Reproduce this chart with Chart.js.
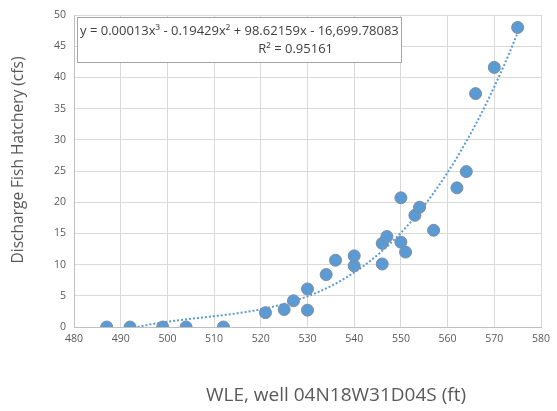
<!DOCTYPE html>
<html>
<head>
<meta charset="utf-8">
<script src="https://cdn.jsdelivr.net/npm/chart.js@4"></script>
<style>
  html, body { margin: 0; padding: 0; background: #fff; }
  #wrap { width: 557px; height: 411px; }
</style>
</head>
<body>
<div id="wrap"><canvas id="chart" width="557" height="411"></canvas></div>
<script>
// ==================== DATA ====================
const wle = [487, 492, 499, 504, 512, 521, 525, 527, 530, 530, 534, 536, 540, 540,
             546, 546, 547, 550, 550, 551, 553, 554, 557, 562, 564, 566, 570, 575];
const discharge = [0, 0, 0, 0, 0, 2.3, 2.8, 4.2, 6.1, 2.7, 8.4, 10.7, 9.8, 11.4,
                   10.1, 13.4, 14.5, 20.7, 13.6, 12.0, 17.9, 19.2, 15.5, 22.3, 24.9, 37.4, 41.6, 48.0];
const xTitle = 'WLE, well 04N18W31D04S (ft)';
const yTitle = 'Discharge Fish Hatchery (cfs)';
const equationText = 'y = 0.00013x\u00B3 - 0.19429x\u00B2 + 98.62159x - 16,699.78083';
const r2Text = 'R\u00B2 = 0.95161';

// ==================== POLY FIT (least squares, degree 3) ====================
function polyFit(xs, ys, deg, x0) {
    const n = deg + 1;
    const A = Array.from({ length: n }, () => Array(n + 1).fill(0));
    xs.forEach((x, k) => {
        const t = x - x0;
        for (let i = 0; i < n; i++) {
            for (let j = 0; j < n; j++) A[i][j] += Math.pow(t, i + j);
            A[i][n] += ys[k] * Math.pow(t, i);
        }
    });
    for (let c = 0; c < n; c++) {
        let p = c;
        for (let r = c + 1; r < n; r++) if (Math.abs(A[r][c]) > Math.abs(A[p][c])) p = r;
        [A[c], A[p]] = [A[p], A[c]];
        for (let r = 0; r < n; r++) {
            if (r === c) continue;
            const f = A[r][c] / A[c][c];
            for (let j = c; j <= n; j++) A[r][j] -= f * A[c][j];
        }
    }
    return A.map((row, i) => row[n] / A[i][i]);
}

const x0 = 530;
const coef = polyFit(wle, discharge, 3, x0);
const trend = [];
for (let x = Math.min(...wle); x <= Math.max(...wle); x += 0.5) {
    const t = x - x0;
    trend.push({ x, y: coef[0] + coef[1] * t + coef[2] * t * t + coef[3] * t * t * t });
}

// ==================== TITLES + EQUATION BOX ====================
const overlay = {
    id: 'overlay',
    afterDraw(chart) {
        const ctx = chart.ctx;
        ctx.save();
        // axis titles
        ctx.fillStyle = '#595959';
        ctx.textAlign = 'center';
        ctx.textBaseline = 'middle';
        ctx.font = '19px "Open Sans"';
        ctx.fillText(xTitle, 336, 396);
        ctx.save();
        ctx.translate(19, 160);
        ctx.rotate(-Math.PI / 2);
        ctx.font = '15.5px "Open Sans"';
        ctx.fillText(yTitle, 0, 0);
        ctx.restore();
        // trendline label
        ctx.fillStyle = '#fff';
        ctx.strokeStyle = '#a6a6a6';
        ctx.lineWidth = 1;
        ctx.fillRect(77, 17, 324, 45);
        ctx.strokeRect(77.5, 17.5, 324, 45);
        ctx.fillStyle = '#404040';
        ctx.font = '13px "Open Sans"';
        ctx.textAlign = 'left';
        ctx.fillText(equationText, 80, 31);
        ctx.textAlign = 'right';
        ctx.fillText(r2Text, 333, 49);
        ctx.restore();
    }
};

// ==================== CHART ====================
const gridColor = '#d9d9d9';
const tickColor = '#595959';

new Chart(document.getElementById('chart'), {
    type: 'scatter',
    data: {
        datasets: [{
            data: wle.map((x, i) => ({ x, y: discharge[i] })),
            backgroundColor: '#5b9bd5',
            borderColor: '#7f8c99',
            borderWidth: 1,
            pointRadius: 6,
            order: 1
        }, {
            data: trend,
            showLine: true,
            borderColor: '#5b9bd5',
            borderWidth: 2,
            borderDash: [2, 2],
            pointRadius: 0,
            fill: false,
            order: 2
        }]
    },
    options: {
        responsive: false,
        animation: false,
        layout: { padding: { top: 15, right: 16, left: 0, bottom: 0 } },
        plugins: { legend: { display: false }, tooltip: { enabled: false } },
        scales: {
            x: {
                type: 'linear',
                min: 480, max: 580,
                ticks: { stepSize: 10, color: tickColor, font: { family: 'Open Sans', size: 10.5 }, padding: 6 },
                grid: { color: gridColor, drawTicks: false },
                border: { color: '#bfbfbf' },
                afterFit: s => { s.height = 84; }
            },
            y: {
                min: 0, max: 50,
                ticks: { stepSize: 5, color: tickColor, font: { family: 'Open Sans', size: 10.5 }, padding: 8 },
                grid: { color: gridColor, drawTicks: false },
                border: { color: '#bfbfbf' },
                afterFit: s => { s.width = 74; }
            }
        }
    },
    plugins: [overlay]
});
</script>
</body>
</html>
